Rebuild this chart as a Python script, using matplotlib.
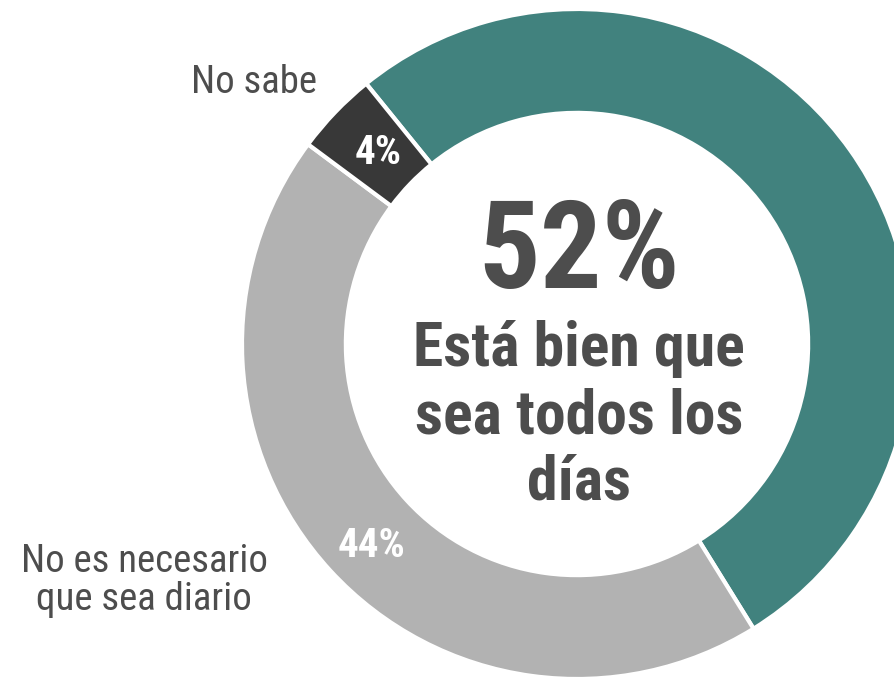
import matplotlib
matplotlib.use("Agg")
import matplotlib.pyplot as plt
from matplotlib import font_manager
import numpy as np

# Data
categories = ["Está bien que sea todos los días", "No es necesario que sea diario", "No sabe"]
values = [52, 44, 4]
colors = ["#41827E", "#B2B2B2", "#383838"]
pct_labels = ["52%", "44%", "4%"]
center_lines = ["Está bien que", "sea todos los", "días"]
outer_lines_nec = ["No es necesario", "que sea diario"]
outer_label_ns = "No sabe"

# look for a condensed sans font, otherwise Liberation Sans
names = sorted({f.name for f in font_manager.fontManager.ttflist})
narrow = None
for pref in ["Liberation Sans Narrow", "Arial Narrow", "Roboto Condensed",
             "Open Sans Condensed", "Noto Sans Condensed", "DejaVu Sans Condensed"]:
    if pref in names:
        narrow = pref
        break
if narrow is not None:
    FONT = [narrow, "DejaVu Sans"]
    S_BIG, S_MID, S_LAB, S_PCT = 88, 44.5, 28, 29.5
else:
    FONT = ["Liberation Sans", "DejaVu Sans"]
    S_BIG, S_MID, S_LAB, S_PCT = 76, 40, 26, 26
plt.rcParams['font.family'] = FONT

fig = plt.figure(figsize=(8.94, 6.79), dpi=100)
ax = fig.add_axes([0, 0, 1, 1])

R = 335.0
cx, cy = 577.0, 344.0
W, H = 894.0, 679.0

wedges, _ = ax.pie(values, colors=colors, startangle=129, counterclock=False,
                   radius=1.0, wedgeprops=dict(width=0.31, edgecolor="white", linewidth=3))

ax.set_xlim(-cx / R, (W - cx) / R)
ax.set_ylim(-(H - cy) / R, cy / R)
ax.set_aspect("equal")
ax.axis("off")

def px(x, y):
    return (x - cx) / R, (cy - y) / R

TXT = "#4D4D4D"

# percentage labels inside small wedges
for lab, (x, y) in zip(pct_labels[1:], [(371, 557), (378, 164)]):
    tx, ty = px(x, y)
    ax.text(tx, ty, lab, ha="center", va="baseline", fontsize=S_PCT,
            fontweight="bold", color="white")

# center text
tx, ty = px(579, 288)
ax.text(tx, ty, pct_labels[0], ha="center", va="baseline", fontsize=S_BIG,
        fontweight="bold", color=TXT)
for line, by in zip(center_lines, [366, 434, 500]):
    tx, ty = px(579, by)
    ax.text(tx, ty, line, ha="center", va="baseline", fontsize=S_MID,
            fontweight="bold", color=TXT)

# outer labels
tx, ty = px(254, 93)
ax.text(tx, ty, outer_label_ns, ha="center", va="baseline", fontsize=S_LAB, color=TXT)
for line, by in zip(outer_lines_nec, [572, 610]):
    tx, ty = px(144, by)
    ax.text(tx, ty, line, ha="center", va="baseline", fontsize=S_LAB, color=TXT)

fig.savefig("out.png", dpi=100)
